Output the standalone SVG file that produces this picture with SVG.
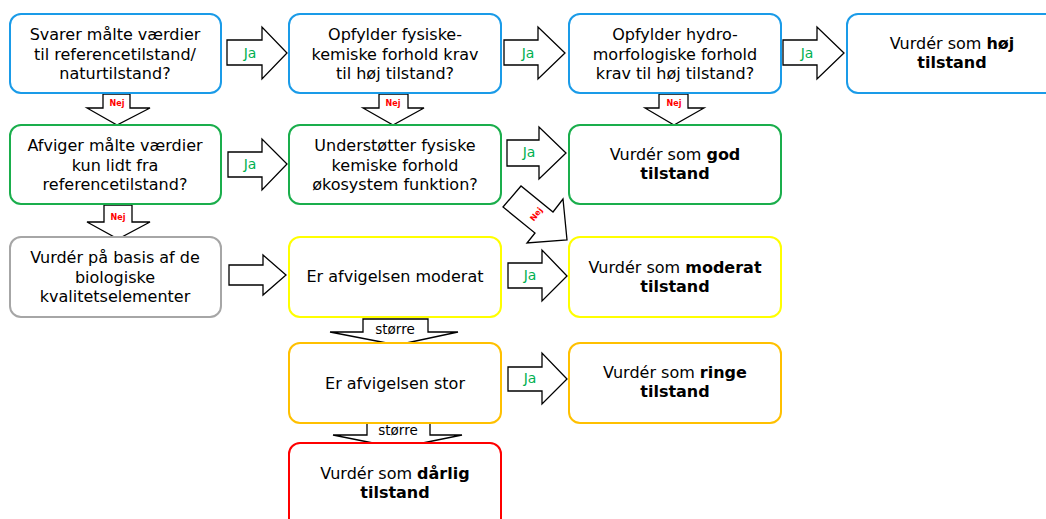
<svg xmlns="http://www.w3.org/2000/svg" width="1046" height="519" viewBox="0 0 1046 519">
<style>
.box{fill:#fff;stroke-width:2}
.blue{stroke:#1a9be8}.green{stroke:#1aae4c}.gray{stroke:#a6a6a6}.yellow{stroke:#ffff00}.orange{stroke:#ffc000}.red{stroke:#ff0000}
.t{font-family:"DejaVu Sans",Verdana,sans-serif;font-size:16px;fill:#000;text-anchor:middle}
.b{font-weight:bold}
.arr{fill:#fff;stroke:#000;stroke-width:1.3;stroke-linejoin:miter}
.ja{font-family:"DejaVu Sans",Verdana,sans-serif;font-size:14px;fill:#00b050;text-anchor:middle}
.nej{font-family:"DejaVu Sans",Verdana,sans-serif;font-size:8px;font-weight:bold;fill:#ff0000;text-anchor:middle}
.st{font-family:"DejaVu Sans",Verdana,sans-serif;font-size:13.5px;fill:#000;text-anchor:middle}
</style>
<rect width="1046" height="519" fill="#fff"/>
<g id="connectors">
  <polygon class="arr" points="227,40 262,40 262,27 287,53 262,79 262,65 227,65"/>
  <text class="ja" x="250" y="58">Ja</text>
  <polygon class="arr" points="504,40 538,40 538,27 565,53 538,79 538,65 504,65"/>
  <text class="ja" x="528" y="58">Ja</text>
  <polygon class="arr" points="783,40 817,40 817,27 844,53 817,79 817,65 783,65"/>
  <text class="ja" x="807" y="58">Ja</text>
  <polygon class="arr" points="228,152 262,152 262,139 287,164 262,190 262,177 228,177"/>
  <text class="ja" x="250" y="169">Ja</text>
  <polygon class="arr" points="507,140 539,140 539,127 566,153 539,179 539,166 507,166"/>
  <text class="ja" x="529" y="157">Ja</text>
  <polygon class="arr" points="229,265 263,265 263,255 286,275 263,295 263,285 229,285"/>
  <polygon class="arr" points="508,263 542,263 542,250 567,276 542,301 542,288 508,288"/>
  <text class="ja" x="530" y="280">Ja</text>
  <polygon class="arr" points="508,367 542,367 542,353 567,379 542,404 542,391 508,391"/>
  <text class="ja" x="530" y="383">Ja</text>
  <polygon class="arr" points="503,207 521,186 553,212 563,199 567,240 527,243 535,233"/>
  <text class="nej" transform="translate(536,214) rotate(-51)" x="0" y="3">Nej</text>
  <polygon class="arr" points="103,94 130,94 130,108 150,108 117,125 87,108 103,108"/>
  <text class="nej" x="117" y="106">Nej</text>
  <polygon class="arr" points="104,205 132,205 132,222 150,222 118,239 87,222 104,222"/>
  <text class="nej" x="118" y="220">Nej</text>
  <polygon class="arr" points="379,94 408,94 408,108 424,108 393,125 363,108 379,108"/>
  <text class="nej" x="393" y="106">Nej</text>
  <polygon class="arr" points="659,94 688,94 688,108 704,108 674,125 645,108 659,108"/>
  <text class="nej" x="674" y="106">Nej</text>
  <polygon class="arr" points="363,319 428,319 428,332 458,332 397,345 330,332 363,332"/>
  <text class="st" x="395" y="334">større</text>
  <polygon class="arr" points="367,422 430,422 430,435 462,435 398,448 333,435 367,435"/>
  <text class="st" x="398" y="435">større</text>
</g>
<g id="n1"><rect class="box blue" x="10" y="14" width="211" height="79" rx="11"/>
<text class="t" x="115" y="40">Svarer målte værdier</text><text class="t" x="115" y="60">til referencetilstand/</text><text class="t" x="115" y="79">naturtilstand?</text></g>
<g id="n2"><rect class="box blue" x="289" y="14" width="212" height="79" rx="11"/>
<text class="t" x="395" y="40">Opfylder fysiske-</text><text class="t" x="395" y="60">kemiske forhold krav</text><text class="t" x="395" y="79">til høj tilstand?</text></g>
<g id="n3"><rect class="box blue" x="569" y="14" width="212" height="79" rx="11"/>
<text class="t" x="675" y="40">Opfylder hydro-</text><text class="t" x="675" y="60">morfologiske forhold</text><text class="t" x="675" y="79">krav til høj tilstand?</text></g>
<g id="n4"><rect class="box blue" x="847" y="14" width="210" height="79" rx="11"/>
<text class="t" x="952" y="49">Vurdér som <tspan class="b">høj</tspan></text><text class="t b" x="952" y="68">tilstand</text></g>
<g id="n5"><rect class="box green" x="10" y="125" width="211" height="79" rx="11"/>
<text class="t" x="115" y="151">Afviger målte værdier</text><text class="t" x="115" y="171">kun lidt fra</text><text class="t" x="115" y="190">referencetilstand?</text></g>
<g id="n6"><rect class="box green" x="289" y="125" width="212" height="79" rx="11"/>
<text class="t" x="395" y="151">Understøtter fysiske</text><text class="t" x="395" y="171">kemiske forhold</text><text class="t" x="395" y="190">økosystem funktion?</text></g>
<g id="n7"><rect class="box green" x="569" y="125" width="212" height="79" rx="11"/>
<text class="t" x="675" y="160">Vurdér som <tspan class="b">god</tspan></text><text class="t b" x="675" y="179">tilstand</text></g>
<g id="n8"><rect class="box gray" x="10" y="237" width="211" height="80" rx="11"/>
<text class="t" x="115" y="263">Vurdér på basis af de</text><text class="t" x="115" y="283">biologiske</text><text class="t" x="115" y="302">kvalitetselementer</text></g>
<g id="n9"><rect class="box yellow" x="289" y="237" width="212" height="80" rx="11"/>
<text class="t" x="395" y="282">Er afvigelsen moderat</text></g>
<g id="n10"><rect class="box yellow" x="569" y="237" width="212" height="80" rx="11"/>
<text class="t" x="675" y="273">Vurdér som <tspan class="b">moderat</tspan></text><text class="t b" x="675" y="292">tilstand</text></g>
<g id="n11"><rect class="box orange" x="289" y="343" width="212" height="80" rx="11"/>
<text class="t" x="395" y="389">Er afvigelsen stor</text></g>
<g id="n12"><rect class="box orange" x="569" y="343" width="212" height="80" rx="11"/>
<text class="t" x="675" y="378">Vurdér som <tspan class="b">ringe</tspan></text><text class="t b" x="675" y="397">tilstand</text></g>
<g id="n13"><rect class="box red" x="289" y="443" width="212" height="90" rx="11"/>
<text class="t" x="395" y="479">Vurdér som <tspan class="b">dårlig</tspan></text><text class="t b" x="395" y="498">tilstand</text></g>
</svg>
